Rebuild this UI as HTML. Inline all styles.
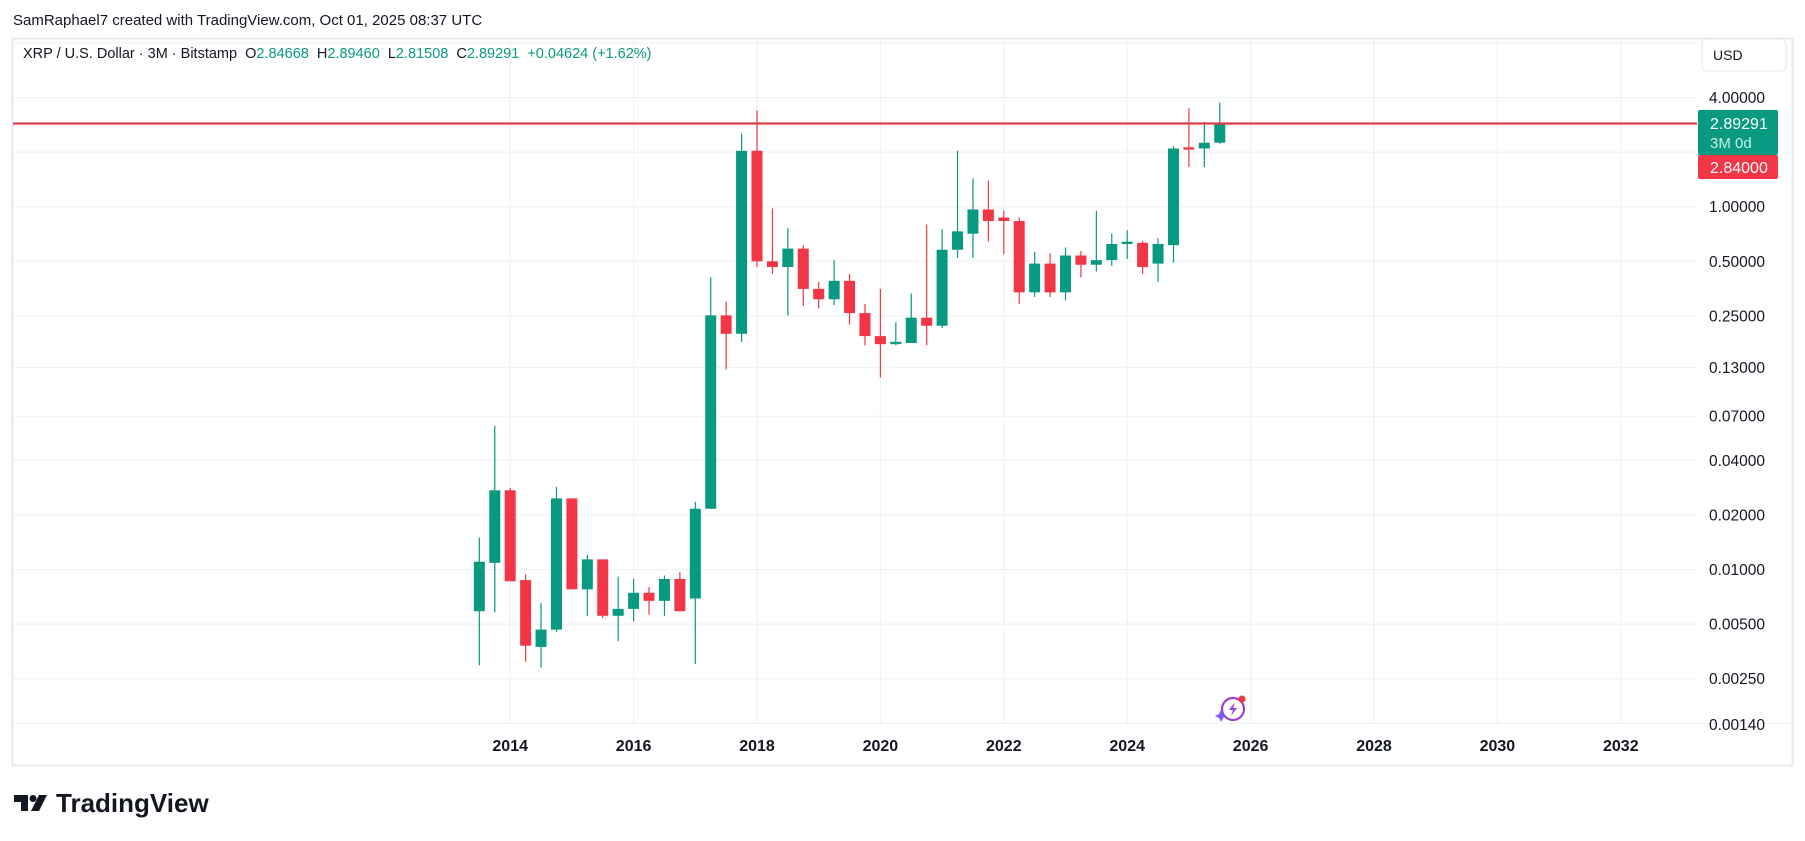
<!DOCTYPE html>
<html><head><meta charset="utf-8"><style>
html,body{margin:0;padding:0;background:#fff;}
svg{display:block;font-family:"Liberation Sans",sans-serif;}
</style></head><body>
<svg id="s" width="1805" height="841" viewBox="0 0 1805 841" xmlns="http://www.w3.org/2000/svg">
<rect width="1805" height="841" fill="#fff"/>
<text x="13" y="25" font-size="15" fill="#131722">SamRaphael7 created with TradingView.com, Oct 01, 2025 08:37 UTC</text>
<rect x="12.5" y="38.5" width="1780" height="727" fill="#fff" stroke="#e8e9ec" stroke-width="2"/>
<g id="grid" stroke="#f0f1f4" stroke-width="1.2"></g>
<line x1="13" y1="723.5" x2="1792" y2="723.5" stroke="#eef0f3" stroke-width="1"/>
<text x="23" y="58" font-size="14.5" fill="#131722" style="white-space:pre">XRP / U.S. Dollar · 3M · Bitstamp  O<tspan fill="#089981">2.84668</tspan>  H<tspan fill="#089981">2.89460</tspan>  L<tspan fill="#089981">2.81508</tspan>  C<tspan fill="#089981">2.89291  +0.04624 (+1.62%)</tspan></text>
<g id="candles"></g>
<line x1="13" y1="123.5" x2="1697" y2="123.5" stroke="#f23645" stroke-width="2.2"/>
<line x1="13" y1="123.5" x2="1697" y2="123.5" stroke="#089981" stroke-width="1" stroke-dasharray="1 3" opacity="0.7"/>
<rect x="1702" y="39" width="84" height="32" rx="5" fill="#fff" stroke="#e6e7ea"/>
<text x="1713" y="60" font-size="14" fill="#131722">USD</text>
<g id="plabels" font-size="15.5" fill="#131722"></g>
<rect x="1698" y="110" width="80" height="45" rx="2" fill="#089981"/>
<text x="1710" y="129" font-size="16" fill="#fff">2.89291</text>
<text x="1710" y="148" font-size="15" fill="#cdeee6">3M 0d</text>
<rect x="1698" y="155" width="80" height="24" rx="2" fill="#f23645"/>
<text x="1710" y="173" font-size="16" fill="#fff">2.84000</text>
<g id="years" font-size="16" font-weight="bold" fill="#131722" text-anchor="middle"></g>
<g transform="translate(1233,709)">
<circle cx="0" cy="0" r="11" fill="none" stroke="#9c3fd6" stroke-width="2.2"/>
<path d="M2,-7 L-4,1 L0,1 L-2,7 L4,-1 L0,-1 Z" fill="#9c3fd6"/>
<circle cx="9" cy="-10" r="3.5" fill="#f23645"/>
<path d="M-12,1 l2,4 l4,2 l-4,2 l-2,4 l-2,-4 l-4,-2 l4,-2 z" fill="#7b5cf5"/>
</g>
<g transform="translate(14,795)">
<path d="M0,0 h14 v16 h-7 v-9 h-7 z" fill="#131722"/>
<circle cx="19" cy="3.5" r="3.5" fill="#131722"/>
<path d="M25,0 h8 l-8,16 h-8 z" fill="#131722"/>
</g>
<text x="56" y="812" font-size="26" font-weight="bold" fill="#131722">TradingView</text>
</svg>
<script>
var ns="http://www.w3.org/2000/svg";
function el(t,a,p){var e=document.createElementNS(ns,t);for(var k in a)e.setAttribute(k,a[k]);p.appendChild(e);return e;}
function py(p){return 206.7-181.4*Math.log10(p);}
function yx(y){return 757+(y-2018)*61.7;}
var g=document.getElementById('grid');
var prices=[8,4,2,1,0.5,0.25,0.13,0.07,0.04,0.02,0.01,0.005,0.0025,0.0014];
prices.forEach(function(p){var y=py(p);if(y<723)el('line',{x1:13,x2:1697,y1:y,y2:y},g);});
for(var yr=2014;yr<=2032;yr+=2){var x=yx(yr);el('line',{x1:x,x2:x,y1:39,y2:723},g);
var t=el('text',{x:x,y:751},document.getElementById('years'));t.textContent=yr;}
var pl=document.getElementById('plabels');
[[4,"4.00000"],[1,"1.00000"],[0.5,"0.50000"],[0.25,"0.25000"],[0.13,"0.13000"],[0.07,"0.07000"],[0.04,"0.04000"],[0.02,"0.02000"],[0.01,"0.01000"],[0.005,"0.00500"],[0.0025,"0.00250"],[0.0014,"0.00140"]].forEach(function(a){var t=el('text',{x:1709,y:py(a[0])+5.5},pl);t.textContent=a[1];});
var d=[[531,467,578,488],[489,370,532,426],[426,424,505,505],[504,499,575,561],[562,524,580,547],[547,423,549,433],[433,433,512,512],[512,482,535,486],[486,486,537,535],[535,501,557,529],[529,503,540,515],[515,510,534,522],[522,500,535,503],[503,497,531,531],[520,436,577,442],[442,241,442,274],[274,262,321,290],[290,116,297,131],[131,96,232,227],[227,181,238,232],[232,198,274,216],[216,213,266,251],[251,245,268,260],[260,226,265,244],[244,238,282,272],[272,264,300,292],[292,251,328,299],[299,280,300,297],[298,255,298,276],[276,195,300,283],[283,199,285,217],[217,131,224,201],[203,155,224,182],[182,157,210,192],[189,183,221,192],[192,189,264,254],[254,219,258,229],[229,220,258,254],[254,215,261,222],[222,218,241,230],[230,183,236,226],[226,203,231,212],[212,200,225,210],[211,209,238,232],[229,207,245,212],[213,127,228,129],[128,94,145,130],[129,106,145,124],[124,89,125,107]];
var cg=document.getElementById('candles');var S=1.151;
d.forEach(function(c,i){var x=yx(2013.5+i*0.25);var o=c[0]*S,h=c[1]*S,l=c[2]*S,cl=c[3]*S;
var up=cl<=o;var col=up?'#089981':'#f23645';
el('rect',{x:x-0.6,y:h,width:1.2,height:Math.max(1,l-h),fill:col},cg);
var top=Math.min(o,cl),bh=Math.max(2,Math.abs(o-cl));
el('rect',{x:x-5.5,y:top,width:11,height:bh,fill:col},cg);});
</script>
</body></html>
